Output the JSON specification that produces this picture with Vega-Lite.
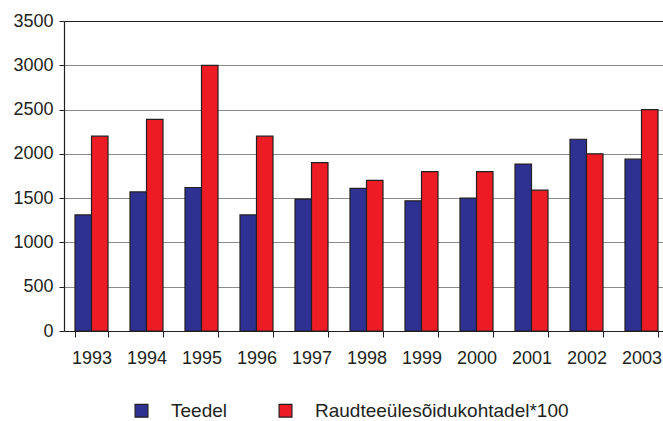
{
  "$schema": "https://vega.github.io/schema/vega-lite/v6.json",
  "autosize": {"type": "none"},
  "padding": {"left": 64, "top": 21, "right": 0, "bottom": 90},
  "width": 605,
  "height": 310,
  "background": "white",
  "config": {
    "font": "Liberation Sans",
    "view": {"stroke": null}
  },
  "data": {
    "values": [
      {"year": "1993", "series": "Teedel", "value": 1310},
      {"year": "1993", "series": "Raudteeülesõidukohtadel*100", "value": 2200},
      {"year": "1994", "series": "Teedel", "value": 1570},
      {"year": "1994", "series": "Raudteeülesõidukohtadel*100", "value": 2390},
      {"year": "1995", "series": "Teedel", "value": 1620},
      {"year": "1995", "series": "Raudteeülesõidukohtadel*100", "value": 3000},
      {"year": "1996", "series": "Teedel", "value": 1310},
      {"year": "1996", "series": "Raudteeülesõidukohtadel*100", "value": 2200},
      {"year": "1997", "series": "Teedel", "value": 1490},
      {"year": "1997", "series": "Raudteeülesõidukohtadel*100", "value": 1900},
      {"year": "1998", "series": "Teedel", "value": 1610},
      {"year": "1998", "series": "Raudteeülesõidukohtadel*100", "value": 1700},
      {"year": "1999", "series": "Teedel", "value": 1470},
      {"year": "1999", "series": "Raudteeülesõidukohtadel*100", "value": 1800},
      {"year": "2000", "series": "Teedel", "value": 1500},
      {"year": "2000", "series": "Raudteeülesõidukohtadel*100", "value": 1800},
      {"year": "2001", "series": "Teedel", "value": 1885},
      {"year": "2001", "series": "Raudteeülesõidukohtadel*100", "value": 1590},
      {"year": "2002", "series": "Teedel", "value": 2165},
      {"year": "2002", "series": "Raudteeülesõidukohtadel*100", "value": 2000},
      {"year": "2003", "series": "Teedel", "value": 1940},
      {"year": "2003", "series": "Raudteeülesõidukohtadel*100", "value": 2500}
    ]
  },
  "mark": {"type": "bar", "stroke": "#231F20", "strokeWidth": 1.2},
  "encoding": {
    "x": {
      "field": "year",
      "type": "nominal",
      "scale": {"paddingInner": 0.4, "paddingOuter": 0.2},
      "axis": {
        "title": null,
        "labelAngle": 0,
        "labelFontSize": 18,
        "labelColor": "#231F20",
        "labelPadding": 12,
        "tickBand": "extent",
        "tickSize": 6,
        "tickColor": "#231F20",
        "domainColor": "#231F20",
        "domainWidth": 1.2,
        "grid": false
      }
    },
    "xOffset": {
      "field": "series",
      "type": "nominal",
      "sort": ["Teedel", "Raudteeülesõidukohtadel*100"]
    },
    "y": {
      "field": "value",
      "type": "quantitative",
      "scale": {"domain": [0, 3500], "nice": false},
      "axis": {
        "title": null,
        "values": [0, 500, 1000, 1500, 2000, 2500, 3000, 3500],
        "format": "d",
        "labelFontSize": 18,
        "labelColor": "#231F20",
        "labelPadding": 6,
        "tickSize": 5,
        "tickColor": "#231F20",
        "domainColor": "#231F20",
        "domainWidth": 1.2,
        "grid": true,
        "gridColor": {"condition": {"test": "datum.value == 3500", "value": "#231F20"}, "value": "#8a8a8a"},
        "gridWidth": 1.2
      }
    },
    "color": {
      "field": "series",
      "type": "nominal",
      "sort": ["Teedel", "Raudteeülesõidukohtadel*100"],
      "scale": {
        "domain": ["Teedel", "Raudteeülesõidukohtadel*100"],
        "range": ["#2E3192", "#ED1C24"]
      },
      "legend": {
        "title": null,
        "orient": "none",
        "direction": "horizontal",
        "legendX": 68,
        "legendY": 380,
        "symbolType": "square",
        "symbolSize": 165,
        "symbolStrokeColor": "#231F20",
        "symbolStrokeWidth": 1.2,
        "labelFontSize": 19,
        "labelColor": "#231F20",
        "labelOffset": 20,
        "columnPadding": 49,
        "labelLimit": 400
      }
    }
  }
}
